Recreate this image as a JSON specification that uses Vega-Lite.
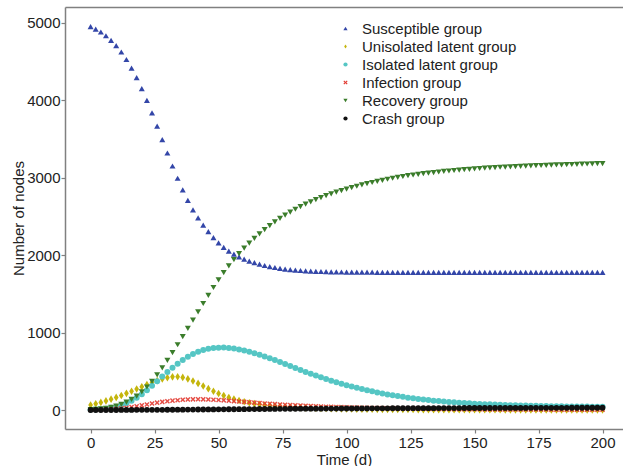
{
  "$schema": "https://vega.github.io/schema/vega-lite/v6.json",
  "width": 558,
  "height": 422,
  "autosize": {"type": "none"},
  "padding": {"left": 65, "top": 7, "right": 0, "bottom": 37},
  "background": "white",
  "config": {
    "view": {"stroke": null},
    "font": "Liberation Sans",
    "axis": {
      "grid": false,
      "domainColor": "#808080",
      "domainWidth": 1.5,
      "tickColor": "#808080",
      "tickWidth": 1.2,
      "tickSize": 4,
      "labelFont": "Liberation Sans",
      "labelFontSize": 15,
      "labelColor": "#222222",
      "titleFont": "Liberation Sans",
      "titleFontSize": 15,
      "titleFontWeight": "normal",
      "titleColor": "#222222"
    },
    "legend": {
      "orient": "none",
      "legendX": 273,
      "legendY": 14,
      "padding": 0,
      "labelFont": "Liberation Sans",
      "labelFontSize": 15,
      "labelColor": "#222222",
      "symbolSize": 18,
      "symbolStrokeWidth": 0,
      "rowPadding": 2,
      "labelOffset": 9
    }
  },
  "datasets": {
    "watermark": [{"word": "Electron"}]
  },
  "data": {
    "values": [
      {"t": 0, "S": 4950, "U": 65, "L": 3, "I": 2, "R": 5, "C": 0},
      {"t": 2, "S": 4918, "U": 80, "L": 6, "I": 3, "R": 9, "C": 0},
      {"t": 4, "S": 4880, "U": 98, "L": 11, "I": 5, "R": 15, "C": 0},
      {"t": 6, "S": 4832, "U": 118, "L": 18, "I": 8, "R": 23, "C": 0},
      {"t": 8, "S": 4773, "U": 140, "L": 28, "I": 12, "R": 35, "C": 0},
      {"t": 10, "S": 4705, "U": 163, "L": 42, "I": 17, "R": 52, "C": 0},
      {"t": 12, "S": 4622, "U": 188, "L": 62, "I": 23, "R": 74, "C": 1},
      {"t": 14, "S": 4525, "U": 215, "L": 88, "I": 30, "R": 102, "C": 1},
      {"t": 16, "S": 4415, "U": 243, "L": 120, "I": 39, "R": 137, "C": 1},
      {"t": 18, "S": 4290, "U": 272, "L": 160, "I": 49, "R": 180, "C": 2},
      {"t": 20, "S": 4150, "U": 300, "L": 205, "I": 60, "R": 235, "C": 2},
      {"t": 22, "S": 3998, "U": 328, "L": 256, "I": 72, "R": 297, "C": 2},
      {"t": 24, "S": 3835, "U": 355, "L": 312, "I": 84, "R": 370, "C": 3},
      {"t": 26, "S": 3665, "U": 380, "L": 372, "I": 95, "R": 455, "C": 3},
      {"t": 28, "S": 3490, "U": 401, "L": 432, "I": 105, "R": 545, "C": 3},
      {"t": 30, "S": 3318, "U": 418, "L": 490, "I": 114, "R": 640, "C": 4},
      {"t": 32, "S": 3150, "U": 428, "L": 546, "I": 121, "R": 740, "C": 4},
      {"t": 34, "S": 2992, "U": 430, "L": 598, "I": 127, "R": 843, "C": 5},
      {"t": 36, "S": 2842, "U": 421, "L": 645, "I": 132, "R": 948, "C": 5},
      {"t": 38, "S": 2706, "U": 402, "L": 687, "I": 136, "R": 1054, "C": 6},
      {"t": 40, "S": 2584, "U": 375, "L": 722, "I": 138, "R": 1160, "C": 6},
      {"t": 42, "S": 2480, "U": 344, "L": 751, "I": 139, "R": 1268, "C": 7},
      {"t": 44, "S": 2388, "U": 310, "L": 774, "I": 138, "R": 1375, "C": 7},
      {"t": 46, "S": 2302, "U": 276, "L": 790, "I": 136, "R": 1480, "C": 8},
      {"t": 48, "S": 2225, "U": 243, "L": 800, "I": 133, "R": 1582, "C": 8},
      {"t": 50, "S": 2158, "U": 213, "L": 805, "I": 129, "R": 1680, "C": 9},
      {"t": 52, "S": 2100, "U": 186, "L": 806, "I": 125, "R": 1773, "C": 9},
      {"t": 54, "S": 2052, "U": 162, "L": 802, "I": 120, "R": 1860, "C": 10},
      {"t": 56, "S": 2012, "U": 141, "L": 794, "I": 115, "R": 1942, "C": 10},
      {"t": 58, "S": 1978, "U": 123, "L": 782, "I": 110, "R": 2018, "C": 11},
      {"t": 60, "S": 1948, "U": 107, "L": 768, "I": 105, "R": 2089, "C": 11},
      {"t": 62, "S": 1923, "U": 94, "L": 752, "I": 100, "R": 2155, "C": 12},
      {"t": 64, "S": 1902, "U": 83, "L": 734, "I": 95, "R": 2217, "C": 12},
      {"t": 66, "S": 1883, "U": 73, "L": 714, "I": 90, "R": 2275, "C": 13},
      {"t": 68, "S": 1866, "U": 65, "L": 692, "I": 85, "R": 2330, "C": 13},
      {"t": 70, "S": 1852, "U": 58, "L": 669, "I": 81, "R": 2381, "C": 14},
      {"t": 72, "S": 1840, "U": 52, "L": 645, "I": 76, "R": 2429, "C": 14},
      {"t": 74, "S": 1829, "U": 47, "L": 620, "I": 72, "R": 2474, "C": 15},
      {"t": 76, "S": 1820, "U": 42, "L": 594, "I": 68, "R": 2516, "C": 15},
      {"t": 78, "S": 1812, "U": 38, "L": 568, "I": 64, "R": 2555, "C": 16},
      {"t": 80, "S": 1806, "U": 34, "L": 542, "I": 60, "R": 2592, "C": 16},
      {"t": 82, "S": 1801, "U": 31, "L": 517, "I": 57, "R": 2626, "C": 17},
      {"t": 84, "S": 1797, "U": 28, "L": 492, "I": 54, "R": 2658, "C": 17},
      {"t": 86, "S": 1793, "U": 26, "L": 468, "I": 51, "R": 2688, "C": 17},
      {"t": 88, "S": 1790, "U": 24, "L": 445, "I": 48, "R": 2716, "C": 18},
      {"t": 90, "S": 1788, "U": 22, "L": 422, "I": 46, "R": 2742, "C": 18},
      {"t": 92, "S": 1786, "U": 20, "L": 400, "I": 43, "R": 2767, "C": 19},
      {"t": 94, "S": 1784, "U": 18, "L": 379, "I": 41, "R": 2790, "C": 19},
      {"t": 96, "S": 1783, "U": 17, "L": 359, "I": 39, "R": 2812, "C": 19},
      {"t": 98, "S": 1782, "U": 15, "L": 340, "I": 37, "R": 2833, "C": 20},
      {"t": 100, "S": 1781, "U": 14, "L": 321, "I": 35, "R": 2852, "C": 20},
      {"t": 102, "S": 1780, "U": 13, "L": 303, "I": 33, "R": 2871, "C": 20},
      {"t": 104, "S": 1780, "U": 12, "L": 286, "I": 31, "R": 2889, "C": 21},
      {"t": 106, "S": 1779, "U": 11, "L": 270, "I": 30, "R": 2906, "C": 21},
      {"t": 108, "S": 1779, "U": 10, "L": 255, "I": 28, "R": 2922, "C": 21},
      {"t": 110, "S": 1779, "U": 10, "L": 241, "I": 27, "R": 2937, "C": 22},
      {"t": 112, "S": 1778, "U": 9, "L": 227, "I": 25, "R": 2952, "C": 22},
      {"t": 114, "S": 1778, "U": 8, "L": 214, "I": 24, "R": 2966, "C": 22},
      {"t": 116, "S": 1778, "U": 8, "L": 202, "I": 23, "R": 2979, "C": 22},
      {"t": 118, "S": 1778, "U": 7, "L": 190, "I": 22, "R": 2992, "C": 23},
      {"t": 120, "S": 1778, "U": 7, "L": 180, "I": 21, "R": 3004, "C": 23},
      {"t": 122, "S": 1778, "U": 6, "L": 170, "I": 20, "R": 3015, "C": 23},
      {"t": 124, "S": 1778, "U": 6, "L": 160, "I": 19, "R": 3025, "C": 23},
      {"t": 126, "S": 1778, "U": 6, "L": 151, "I": 18, "R": 3034, "C": 24},
      {"t": 128, "S": 1778, "U": 5, "L": 143, "I": 17, "R": 3043, "C": 24},
      {"t": 130, "S": 1778, "U": 5, "L": 135, "I": 16, "R": 3051, "C": 24},
      {"t": 132, "S": 1778, "U": 5, "L": 128, "I": 15, "R": 3059, "C": 24},
      {"t": 134, "S": 1778, "U": 4, "L": 121, "I": 15, "R": 3066, "C": 24},
      {"t": 136, "S": 1778, "U": 4, "L": 115, "I": 14, "R": 3073, "C": 25},
      {"t": 138, "S": 1778, "U": 4, "L": 109, "I": 13, "R": 3080, "C": 25},
      {"t": 140, "S": 1778, "U": 4, "L": 104, "I": 13, "R": 3086, "C": 25},
      {"t": 142, "S": 1777, "U": 3, "L": 99, "I": 12, "R": 3092, "C": 25},
      {"t": 144, "S": 1777, "U": 3, "L": 94, "I": 12, "R": 3098, "C": 25},
      {"t": 146, "S": 1777, "U": 3, "L": 90, "I": 11, "R": 3103, "C": 26},
      {"t": 148, "S": 1777, "U": 3, "L": 86, "I": 11, "R": 3108, "C": 26},
      {"t": 150, "S": 1777, "U": 3, "L": 82, "I": 10, "R": 3113, "C": 26},
      {"t": 152, "S": 1777, "U": 3, "L": 79, "I": 10, "R": 3118, "C": 26},
      {"t": 154, "S": 1777, "U": 3, "L": 76, "I": 9, "R": 3122, "C": 26},
      {"t": 156, "S": 1777, "U": 3, "L": 73, "I": 9, "R": 3126, "C": 26},
      {"t": 158, "S": 1777, "U": 3, "L": 70, "I": 9, "R": 3130, "C": 27},
      {"t": 160, "S": 1777, "U": 3, "L": 67, "I": 8, "R": 3134, "C": 27},
      {"t": 162, "S": 1777, "U": 2, "L": 65, "I": 8, "R": 3137, "C": 27},
      {"t": 164, "S": 1777, "U": 2, "L": 63, "I": 8, "R": 3140, "C": 27},
      {"t": 166, "S": 1777, "U": 2, "L": 61, "I": 7, "R": 3143, "C": 27},
      {"t": 168, "S": 1777, "U": 2, "L": 59, "I": 7, "R": 3146, "C": 27},
      {"t": 170, "S": 1777, "U": 2, "L": 57, "I": 7, "R": 3149, "C": 27},
      {"t": 172, "S": 1777, "U": 2, "L": 55, "I": 6, "R": 3152, "C": 28},
      {"t": 174, "S": 1777, "U": 2, "L": 54, "I": 6, "R": 3154, "C": 28},
      {"t": 176, "S": 1777, "U": 2, "L": 52, "I": 6, "R": 3157, "C": 28},
      {"t": 178, "S": 1777, "U": 2, "L": 51, "I": 6, "R": 3159, "C": 28},
      {"t": 180, "S": 1777, "U": 2, "L": 50, "I": 5, "R": 3162, "C": 28},
      {"t": 182, "S": 1777, "U": 2, "L": 49, "I": 5, "R": 3164, "C": 28},
      {"t": 184, "S": 1777, "U": 2, "L": 48, "I": 5, "R": 3166, "C": 28},
      {"t": 186, "S": 1777, "U": 2, "L": 47, "I": 5, "R": 3168, "C": 28},
      {"t": 188, "S": 1777, "U": 2, "L": 46, "I": 5, "R": 3170, "C": 29},
      {"t": 190, "S": 1777, "U": 2, "L": 45, "I": 4, "R": 3172, "C": 29},
      {"t": 192, "S": 1777, "U": 2, "L": 44, "I": 4, "R": 3174, "C": 29},
      {"t": 194, "S": 1777, "U": 2, "L": 44, "I": 4, "R": 3176, "C": 29},
      {"t": 196, "S": 1777, "U": 2, "L": 43, "I": 4, "R": 3178, "C": 29},
      {"t": 198, "S": 1777, "U": 2, "L": 43, "I": 4, "R": 3180, "C": 29},
      {"t": 200, "S": 1777, "U": 2, "L": 42, "I": 4, "R": 3182, "C": 29}
    ]
  },
  "encoding": {
    "x": {"field": "t", "type": "quantitative", "scale": {"domain": [-10, 208], "nice": false, "zero": false}, "axis": null}
  },
  "layer": [
    {
      "data": {"name": "watermark"},
      "mark": {"type": "text", "font": "Liberation Sans", "fontSize": 76, "angle": 318, "align": "left", "baseline": "alphabetic", "color": "#e6e6e6"},
      "encoding": {
        "x": {"datum": 114, "type": "quantitative", "scale": {"domain": [-10, 208], "nice": false, "zero": false}, "axis": null},
        "y": {"datum": -520, "type": "quantitative", "scale": {"domain": [-245, 5203], "nice": false, "zero": false}, "axis": null},
        "text": {"field": "word", "type": "nominal"}
      }
    },
    {
      "mark": {"type": "point", "filled": true, "opacity": 1, "size": 36},
      "encoding": {
        "x": {
          "field": "t", "type": "quantitative",
          "scale": {"domain": [-10, 208], "nice": false, "zero": false},
          "axis": {"orient": "bottom", "title": "Time (d)", "values": [0, 25, 50, 75, 100, 125, 150, 175, 200], "labelPadding": 2, "titlePadding": 2}
        },
        "y": {
          "field": "S", "type": "quantitative",
          "scale": {"domain": [-245, 5203], "nice": false, "zero": false},
          "axis": {"orient": "left", "title": "Number of nodes", "values": [0, 1000, 2000, 3000, 4000, 5000], "format": "d", "labelPadding": 1, "titlePadding": 0}
        },
        "color": {"datum": "Susceptible group", "title": null, "scale": {"domain": ["Susceptible group", "Unisolated latent group", "Isolated latent group", "Infection group", "Recovery group", "Crash group"], "range": ["#3346a8", "#c4b50c", "#55c6c4", "#e23b32", "#3b7d2b", "#111111"]}},
        "shape": {"datum": "Susceptible group", "title": null, "scale": {"domain": ["Susceptible group", "Unisolated latent group", "Isolated latent group", "Infection group", "Recovery group", "Crash group"], "range": ["triangle-up", "M0,-1L0.62,0L0,1L-0.62,0Z", "circle", "M-1,-0.6L-0.6,-1L0,-0.4L0.6,-1L1,-0.6L0.4,0L1,0.6L0.6,1L0,0.4L-0.6,1L-1,0.6L-0.4,0Z", "triangle-down", "circle"]}}
      }
    },
    {
      "mark": {"type": "point", "filled": true, "opacity": 1, "size": 58},
      "encoding": {
        "x": {
          "field": "t", "type": "quantitative",
          "scale": {"domain": [-10, 208], "nice": false, "zero": false},
          "axis": {"orient": "top", "title": null, "labels": false, "ticks": false}
        },
        "y": {"field": "U", "type": "quantitative", "scale": {"domain": [-245, 5203], "nice": false, "zero": false}, "axis": null},
        "color": {"datum": "Unisolated latent group", "title": null, "scale": {"domain": ["Susceptible group", "Unisolated latent group", "Isolated latent group", "Infection group", "Recovery group", "Crash group"], "range": ["#3346a8", "#c4b50c", "#55c6c4", "#e23b32", "#3b7d2b", "#111111"]}},
        "shape": {"datum": "Unisolated latent group", "title": null, "scale": {"domain": ["Susceptible group", "Unisolated latent group", "Isolated latent group", "Infection group", "Recovery group", "Crash group"], "range": ["triangle-up", "M0,-1L0.62,0L0,1L-0.62,0Z", "circle", "M-1,-0.6L-0.6,-1L0,-0.4L0.6,-1L1,-0.6L0.4,0L1,0.6L0.6,1L0,0.4L-0.6,1L-1,0.6L-0.4,0Z", "triangle-down", "circle"]}}
      }
    },
    {
      "mark": {"type": "point", "filled": true, "opacity": 1, "size": 36},
      "encoding": {
        "y": {"field": "L", "type": "quantitative", "scale": {"domain": [-245, 5203], "nice": false, "zero": false}, "axis": null},
        "color": {"datum": "Isolated latent group", "title": null, "scale": {"domain": ["Susceptible group", "Unisolated latent group", "Isolated latent group", "Infection group", "Recovery group", "Crash group"], "range": ["#3346a8", "#c4b50c", "#55c6c4", "#e23b32", "#3b7d2b", "#111111"]}},
        "shape": {"datum": "Isolated latent group", "title": null, "scale": {"domain": ["Susceptible group", "Unisolated latent group", "Isolated latent group", "Infection group", "Recovery group", "Crash group"], "range": ["triangle-up", "M0,-1L0.62,0L0,1L-0.62,0Z", "circle", "M-1,-0.6L-0.6,-1L0,-0.4L0.6,-1L1,-0.6L0.4,0L1,0.6L0.6,1L0,0.4L-0.6,1L-1,0.6L-0.4,0Z", "triangle-down", "circle"]}}
      }
    },
    {
      "mark": {"type": "point", "filled": true, "opacity": 0.9, "size": 26},
      "encoding": {
        "y": {"field": "I", "type": "quantitative", "scale": {"domain": [-245, 5203], "nice": false, "zero": false}, "axis": null},
        "color": {"datum": "Infection group", "title": null, "scale": {"domain": ["Susceptible group", "Unisolated latent group", "Isolated latent group", "Infection group", "Recovery group", "Crash group"], "range": ["#3346a8", "#c4b50c", "#55c6c4", "#e23b32", "#3b7d2b", "#111111"]}},
        "shape": {"datum": "Infection group", "title": null, "scale": {"domain": ["Susceptible group", "Unisolated latent group", "Isolated latent group", "Infection group", "Recovery group", "Crash group"], "range": ["triangle-up", "M0,-1L0.62,0L0,1L-0.62,0Z", "circle", "M-1,-0.6L-0.6,-1L0,-0.4L0.6,-1L1,-0.6L0.4,0L1,0.6L0.6,1L0,0.4L-0.6,1L-1,0.6L-0.4,0Z", "triangle-down", "circle"]}}
      }
    },
    {
      "mark": {"type": "point", "filled": true, "opacity": 1, "size": 36},
      "encoding": {
        "y": {"field": "R", "type": "quantitative", "scale": {"domain": [-245, 5203], "nice": false, "zero": false}, "axis": null},
        "color": {"datum": "Recovery group", "title": null, "scale": {"domain": ["Susceptible group", "Unisolated latent group", "Isolated latent group", "Infection group", "Recovery group", "Crash group"], "range": ["#3346a8", "#c4b50c", "#55c6c4", "#e23b32", "#3b7d2b", "#111111"]}},
        "shape": {"datum": "Recovery group", "title": null, "scale": {"domain": ["Susceptible group", "Unisolated latent group", "Isolated latent group", "Infection group", "Recovery group", "Crash group"], "range": ["triangle-up", "M0,-1L0.62,0L0,1L-0.62,0Z", "circle", "M-1,-0.6L-0.6,-1L0,-0.4L0.6,-1L1,-0.6L0.4,0L1,0.6L0.6,1L0,0.4L-0.6,1L-1,0.6L-0.4,0Z", "triangle-down", "circle"]}}
      }
    },
    {
      "mark": {"type": "point", "filled": true, "opacity": 1, "size": 34},
      "encoding": {
        "y": {"field": "C", "type": "quantitative", "scale": {"domain": [-245, 5203], "nice": false, "zero": false}, "axis": null},
        "color": {"datum": "Crash group", "title": null, "scale": {"domain": ["Susceptible group", "Unisolated latent group", "Isolated latent group", "Infection group", "Recovery group", "Crash group"], "range": ["#3346a8", "#c4b50c", "#55c6c4", "#e23b32", "#3b7d2b", "#111111"]}},
        "shape": {"datum": "Crash group", "title": null, "scale": {"domain": ["Susceptible group", "Unisolated latent group", "Isolated latent group", "Infection group", "Recovery group", "Crash group"], "range": ["triangle-up", "M0,-1L0.62,0L0,1L-0.62,0Z", "circle", "M-1,-0.6L-0.6,-1L0,-0.4L0.6,-1L1,-0.6L0.4,0L1,0.6L0.6,1L0,0.4L-0.6,1L-1,0.6L-0.4,0Z", "triangle-down", "circle"]}}
      }
    }
  ],
  "resolve": {"axis": {"x": "independent", "y": "independent"}}
}
